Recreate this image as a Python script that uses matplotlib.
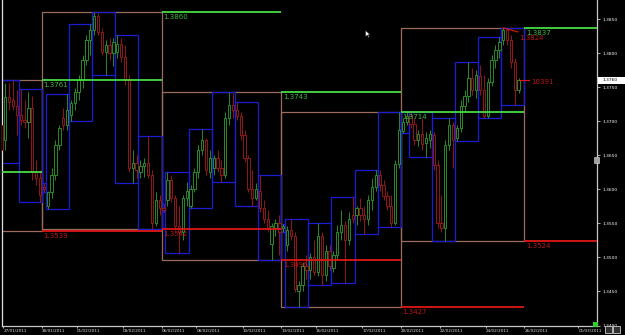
import numpy as np
import matplotlib
matplotlib.use("Agg")
import matplotlib.pyplot as plt
from matplotlib.patches import Rectangle
import matplotlib.transforms as mtransforms

# H4 bars, index -11 .. 123 (bar 0 = Sunday 30/01/2011); prices in 1e-4 units
FIRST_BAR = -11
opens = [
    13694, 13672, 13735, 13731, 13722,
    13709, 13701, 13699, 13719, 13625, 13616,
    13604,
    13576, 13596, 13621, 13665, 13704, 13694,
    13709, 13726, 13743, 13760, 13790, 13819,
    13834, 13854, 13831, 13801, 13812, 13800,
    13801, 13813, 13794, 13760, 13631, 13638,
    13625, 13634, 13638, 13621, 13551, 13584,
    13573,
    13584, 13613, 13587, 13546, 13537, 13587,
    13576, 13601, 13625, 13657, 13672, 13625,
    13631, 13646, 13631, 13621, 13704, 13724,
    13716, 13707, 13679, 13646, 13601, 13587,
    13598, 13572, 13557, 13519, 13543, 13551,
    13543,
    13518, 13540, 13531, 13451, 13460, 13487,
    13481, 13501, 13478, 13531, 13474, 13510,
    13484, 13503, 13537, 13547, 13525, 13562,
    13562, 13572, 13562, 13557, 13584, 13604,
    13621, 13606, 13590, 13575, 13551, 13637,
    13685, 13699,
    13707, 13696, 13672, 13681, 13668, 13672,
    13679, 13635, 13551, 13543, 13665, 13694,
    13675, 13690, 13722, 13737, 13763, 13746,
    13766, 13746, 13707, 13757, 13790, 13804,
    13819, 13834, 13819, 13787, 13746,
]
highs = [
    13753, 13756, 13756, 13761, 13746,
    13747, 13731, 13743, 13737, 13643, 13628,
    13609,
    13598, 13631, 13672, 13694, 13719, 13740,
    13731, 13749, 13768, 13797, 13826, 13843,
    13860, 13859, 13837, 13819, 13822, 13822,
    13826, 13822, 13812, 13768, 13657, 13650,
    13643, 13646, 13678, 13628, 13596, 13591,
    13579,
    13626, 13621, 13591, 13576, 13591, 13610,
    13606, 13631, 13665, 13688, 13675, 13657,
    13650, 13657, 13643, 13713, 13743, 13741,
    13728, 13713, 13687, 13650, 13628, 13609,
    13621, 13584, 13569, 13551, 13557, 13562,
    13549,
    13546, 13557, 13537, 13466, 13493, 13503,
    13507, 13525, 13550, 13537, 13518, 13518,
    13510, 13547, 13569, 13554, 13566, 13588,
    13576, 13587, 13576, 13591, 13616, 13628,
    13628, 13613, 13598, 13591, 13643, 13714,
    13704, 13713,
    13713, 13704, 13687, 13704, 13684, 13687,
    13684, 13643, 13591, 13672, 13704, 13699,
    13694, 13731, 13746, 13787, 13778, 13775,
    13782, 13768, 13763, 13797, 13812, 13823,
    13837, 13835, 13826, 13793, 13763,
]
lows = [
    13638, 13657, 13716, 13716, 13679,
    13694, 13690, 13676, 13613, 13606, 13582,
    13596,
    13571, 13587, 13613, 13657, 13687, 13687,
    13700, 13716, 13731, 13749, 13782, 13797,
    13826, 13826, 13797, 13768, 13790, 13781,
    13793, 13787, 13753, 13625, 13609, 13616,
    13616, 13618, 13616, 13542, 13546, 13562,
    13566,
    13576, 13581, 13540, 13507, 13525, 13576,
    13572, 13596, 13616, 13650, 13621, 13616,
    13621, 13625, 13610, 13616, 13694, 13704,
    13701, 13672, 13640, 13596, 13576, 13584,
    13566, 13551, 13537, 13496, 13532, 13503,
    13537,
    13510, 13525, 13449, 13427, 13451, 13469,
    13469, 13474, 13472, 13460, 13466, 13481,
    13478, 13496, 13525, 13462, 13518, 13551,
    13547, 13554, 13535, 13547, 13569, 13598,
    13598, 13584, 13569, 13544, 13547, 13631,
    13682, 13694,
    13690, 13665, 13663, 13657, 13647, 13660,
    13628, 13543, 13537, 13524, 13657, 13631,
    13671, 13684, 13713, 13728, 13738, 13734,
    13738, 13704, 13704, 13751, 13778, 13793,
    13812, 13812, 13778, 13724, 13741,
]
closes = [
    13657, 13735, 13728, 13722, 13709,
    13701, 13699, 13719, 13625, 13616, 13591,
    13600,
    13596, 13621, 13665, 13690, 13694, 13716,
    13726, 13743, 13760, 13790, 13819, 13834,
    13854, 13831, 13801, 13812, 13800, 13816,
    13813, 13794, 13760, 13631, 13638, 13628,
    13634, 13638, 13621, 13551, 13584, 13572,
    13569,
    13613, 13587, 13546, 13537, 13587, 13598,
    13601, 13625, 13657, 13672, 13628, 13646,
    13646, 13631, 13621, 13704, 13724, 13716,
    13707, 13679, 13646, 13601, 13587, 13601,
    13572, 13557, 13543, 13546, 13551, 13537,
    13546,
    13540, 13531, 13454, 13460, 13487, 13481,
    13501, 13478, 13531, 13474, 13510, 13488,
    13503, 13537, 13547, 13525, 13557, 13557,
    13572, 13562, 13557, 13584, 13604, 13621,
    13606, 13590, 13575, 13551, 13637, 13687,
    13699, 13707,
    13696, 13672, 13681, 13666, 13676, 13681,
    13635, 13551, 13543, 13665, 13694, 13672,
    13690, 13722, 13737, 13763, 13746, 13768,
    13746, 13707, 13757, 13790, 13804, 13816,
    13834, 13819, 13787, 13746, 13760,
]

# first bar of each trading day (Sunday stubs included), end of the last week
day_starts = [-11, -6, 0, 1, 7, 13, 19, 25, 31, 32, 38, 44, 50, 56,
              62, 63, 69, 75, 81, 87, 93, 95, 101, 107, 113, 119]
week_starts = [0, 31, 62, 93]
last_week_end = 125

# week before the first full week (mostly off screen)
w0_high, w0_low = 1.3761, 1.3539
wprev_high = 1.3625

date_pos = [-10.5, -0.5, 8.5, 20.5, 30.5, 39.5, 51.5, 61.5, 70.5,
            82.5, 92.5, 102.5, 114.5, 124.5, 138.5]
date_labels = ["27/01/2011", "30/01/2011", "01/02/2011", "03/02/2011",
               "06/02/2011", "08/02/2011", "10/02/2011", "13/02/2011",
               "15/02/2011", "17/02/2011", "20/02/2011", "22/02/2011",
               "24/02/2011", "26/02/2011", "01/03/2011"]
price_ticks = [1.3400, 1.3450, 1.3500, 1.3550, 1.3600, 1.3650,
               1.3700, 1.3750, 1.3800, 1.3850]

GREEN_C = "#2f9f2f"
RED_C = "#a81c1c"
BLUE = "#1c1cd2"
BROWN = "#9c6b5e"
LIME = "#46dc46"
RED_L = "#e01818"
AXC = "#c8c8c8"

o = np.array(opens) / 1e4
h = np.array(highs) / 1e4
l = np.array(lows) / 1e4
c = np.array(closes) / 1e4
x = np.arange(FIRST_BAR, FIRST_BAR + len(o))

XMIN, XMAX = -10.86, 143.3
YMIN, YMAX = 1.3400, 1.38779

fig = plt.figure(figsize=(6.25, 3.35), dpi=100, facecolor="black")
ax = fig.add_axes([2 / 625, 9.5 / 335, 595 / 625, 325.5 / 335], facecolor="black")
ax.set_xlim(XMIN, XMAX)
ax.set_ylim(YMIN, YMAX)

# candles: hollow bodies
cols = np.where(c >= o, GREEN_C, RED_C)
ax.vlines(x, l, h, colors=cols, lw=0.6, zorder=3)
for xi, oi, ci, col in zip(x, o, c, cols):
    ax.add_patch(Rectangle((xi - 0.3, min(oi, ci)), 0.6, max(abs(ci - oi), 0.00004),
                           fc="black", ec=col, lw=0.6, zorder=3.1))

# daily range boxes
bounds = day_starts + [last_week_end]
for s, e in zip(bounds[:-1], bounds[1:]):
    sel = (x >= s) & (x < e)
    hi, lo = h[sel].max(), l[sel].min()
    ax.add_patch(Rectangle((s - 0.5, lo), e - s, hi - lo, fill=False,
                           ec=BLUE, lw=0.9, zorder=2))

# weekly boxes + previous-week high/low levels
weeks = [(XMIN - 5, -0.5, w0_high, w0_low)]
wb = week_starts + [last_week_end]
for s, e in zip(wb[:-1], wb[1:]):
    sel = (x >= s) & (x < e)
    weeks.append((s - 0.5, e - 0.5, h[sel].max(), l[sel].min()))

for x0, x1, hi, lo in weeks:
    ax.add_patch(Rectangle((x0, lo), x1 - x0, hi - lo, fill=False,
                           ec=BROWN, lw=0.9, zorder=1.5))

levels = [(XMIN - 5, -0.5, wprev_high, None)]
for i in range(1, len(weeks)):
    levels.append((weeks[i][0], weeks[i][1], weeks[i - 1][2], weeks[i - 1][3]))
levels.append((weeks[-1][1], XMAX, weeks[-1][2], weeks[-1][3]))

for x0, x1, phi, plo in levels:
    for lev, col in ((phi, LIME), (plo, RED_L)):
        if lev is None:
            continue
        ax.plot([x0, x1], [lev, lev], color=col, lw=1.3, zorder=4,
                solid_capstyle="butt")
        if x0 > XMIN:
            ax.annotate(f"{lev:.4f}", (x0, lev), xytext=(1.2, -1.4),
                        textcoords="offset points", color=col, fontsize=5,
                        va="top", ha="left", zorder=5, alpha=0.85)

# last-day high marker and current price arrow
ax.plot([119, 122.8], [1.3837, 1.3831], color=RED_L, lw=0.8, zorder=5)
ax.text(123.1, 1.3827, "1.3824", color=RED_L, fontsize=5, va="top", ha="left",
        zorder=5, alpha=0.85)
ax.plot([123.4, 125.6], [c[-1], c[-1]], color=RED_L, lw=0.8, zorder=5)
ax.text(126.3, c[-1] - 0.00025, "10391", color=RED_L, fontsize=5, va="center",
        ha="left", zorder=5, alpha=0.85)

# mouse pointer
cursor = [(0, 0), (0, -1), (0.28, -0.74), (0.48, -1.12), (0.62, -1.05),
          (0.43, -0.68), (0.78, -0.68), (0, 0)]
ax.plot([83.2], [1.3834], marker=cursor, ms=10, mfc="white", mec="black",
        mew=0.3, zorder=6)

# axes styling
ax.spines["top"].set_visible(False)
ax.spines["left"].set_color("#e0e0e0")
ax.spines["right"].set_color(AXC)
ax.spines["bottom"].set_color(AXC)
for sp in ax.spines.values():
    sp.set_linewidth(0.9)

ax.yaxis.tick_right()
ax.set_yticks(price_ticks)
ax.set_yticklabels([f"{t:.4f}" for t in price_ticks])
ax.tick_params(axis="y", colors=AXC, labelcolor="white", labelsize=3.2,
               length=2, width=0.6, pad=2)
ax.set_xticks(date_pos)
ax.set_xticklabels(date_labels)
for lab in ax.get_xticklabels():
    lab.set_ha("left")
ax.tick_params(axis="x", colors=AXC, labelcolor="#e0e0e0", labelsize=3.0,
               length=1.5, width=0.6, pad=1)

# current price tag on the price scale
fig.patches.append(Rectangle((598 / 625, (335 - 84) / 335), 27 / 625, 7 / 335,
                             transform=fig.transFigure, fc="white", ec="none"))
trans = mtransforms.blended_transform_factory(fig.transFigure, ax.transData)
fig.text(603 / 625, c[-1], f"{c[-1]:.4f}", transform=trans, fontsize=3.2,
         color="black", va="center", ha="left")

# small terminal icons
fig.patches.append(Rectangle((593 / 625, (335 - 327) / 335), 5 / 625, 5 / 335,
                             transform=fig.transFigure, fc="#30d030", ec="none"))
for px in (605, 613):
    fig.patches.append(Rectangle((px / 625, 2 / 335), 7 / 625, 7 / 335,
                                 transform=fig.transFigure, fc="#303030",
                                 ec="#d0d0d0", lw=0.6))
fig.patches.append(Rectangle((594 / 625, (335 - 163) / 335), 5 / 625, 6 / 335,
                             transform=fig.transFigure, fc="#a0a0a0",
                             ec="#e0e0e0", lw=0.4))

fig.savefig("out.png", dpi=100, facecolor="black")
